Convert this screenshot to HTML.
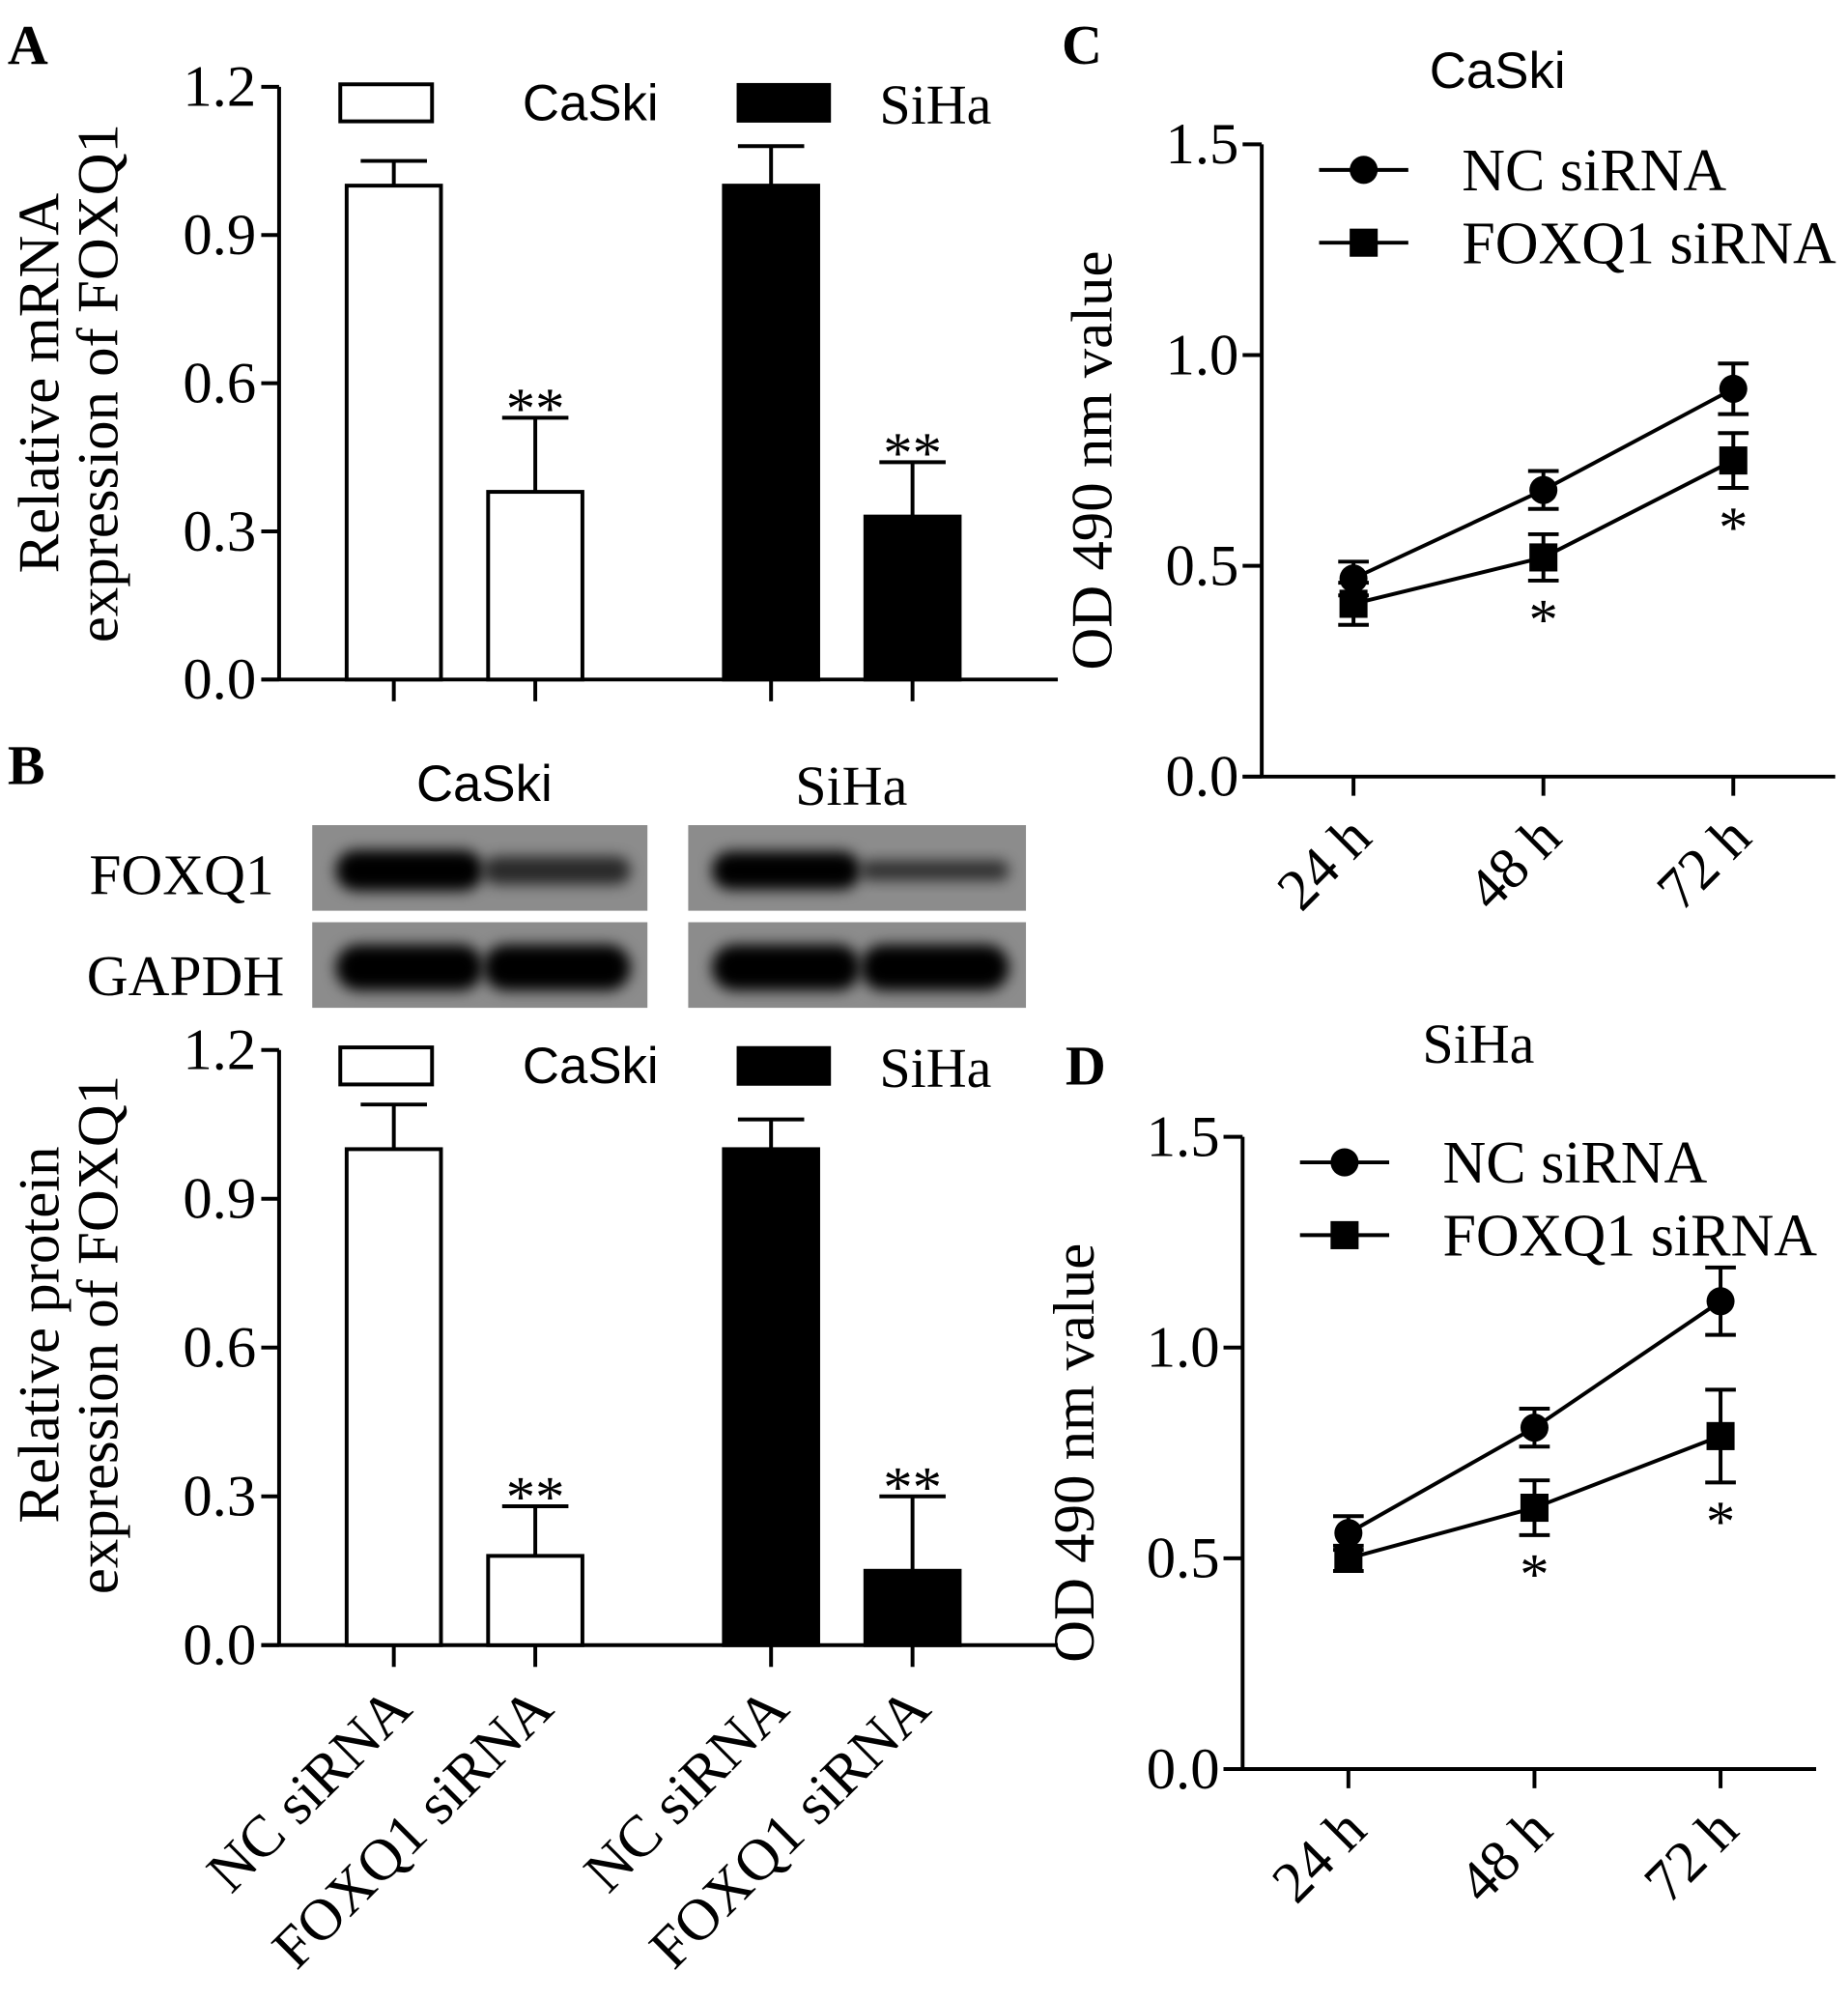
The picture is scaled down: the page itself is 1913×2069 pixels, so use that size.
<!DOCTYPE html>
<html><head><meta charset="utf-8"><style>
html,body{margin:0;padding:0;background:#fff;}
svg{display:block;}
text{fill:#000;}
.ser{font-family:"Liberation Serif",serif;}
.san{font-family:"Liberation Sans",sans-serif;}
</style></head><body>
<svg id="fig" width="1913" height="2069" viewBox="0 0 1450 1565" preserveAspectRatio="none" xmlns="http://www.w3.org/2000/svg">
<defs><filter id="blur" x="-20%" y="-60%" width="140%" height="220%"><feGaussianBlur stdDeviation="5.5"/></filter></defs>
<g class="ser" font-weight="bold" font-size="44">
<text x="6" y="50">A</text>
<text x="6" y="614">B</text>
<text x="833" y="50">C</text>
<text x="836" y="849">D</text>
</g>
<g>
<text class="san" font-size="40" x="380" y="627" text-anchor="middle">CaSki</text>
<text class="ser" font-size="44" x="668" y="630" text-anchor="middle">SiHa</text>
<text class="ser" font-size="45" x="70" y="700">FOXQ1</text>
<text class="ser" font-size="45" x="68" y="779">GAPDH</text>
<g id="blots"></g>
</g>
<g id="chartA"></g>
<g id="chartB"></g>
<g id="chartC"></g>
<g id="chartD"></g>
</svg>
<script>
const NS="http://www.w3.org/2000/svg";
// Bar chart data
const barCategories=["NC siRNA","FOXQ1 siRNA","NC siRNA","FOXQ1 siRNA"];
const barFill=["#fff","#fff","#000","#000"];
const mrnaValues=[1.0,0.38,1.0,0.33];
const mrnaErrors=[0.05,0.15,0.08,0.11];
const mrnaStars=["","**","","**"];
const proteinValues=[1.0,0.18,1.0,0.15];
const proteinErrors=[0.09,0.10,0.06,0.15];
const proteinStars=["","**","","**"];
const barTicks=["0.0","0.3","0.6","0.9","1.2"];
// Line chart data
const timeLabels=["24 h","48 h","72 h"];
const lineTicks=["0.0","0.5","1.0","1.5"];
const caskiNC=[0.47,0.68,0.92];
const caskiNCErr=[0.04,0.045,0.06];
const caskiFOX=[0.41,0.52,0.75];
const caskiFOXErr=[0.05,0.055,0.065];
const caskiStars=["","*","*"];
const sihaNC=[0.56,0.81,1.11];
const sihaNCErr=[0.04,0.045,0.08];
const sihaFOX=[0.50,0.62,0.79];
const sihaFOXErr=[0.03,0.065,0.11];
const sihaStars=["","*","*"];

const FS=46;
function mk(parent,tag,attrs,txt){const e=document.createElementNS(NS,tag);for(const k in attrs)e.setAttribute(k,attrs[k]);if(txt!==undefined)e.textContent=txt;parent.appendChild(e);return e;}

function barChart(g,vals,errs,stars,top,bottom,showX){
  const ax=219, xr=830;
  const y=v=>bottom-(v/1.2)*(bottom-top);
  const xs=i=>[309,420,605,716][i];
  const l=mk(g,'line',{x1:ax,y1:top,x2:ax,y2:bottom,stroke:'#000','stroke-width':3});
  
  
  const xl=mk(g,'line',{x1:ax-14,y1:bottom,x2:xr,y2:bottom,stroke:'#000','stroke-width':3});
  
  
  barTicks.forEach(t=>{const v=parseFloat(t);
    mk(g,'line',{x1:ax-14,y1:y(v),x2:ax,y2:y(v),stroke:'#000','stroke-width':3});
    const tx=mk(g,'text',{x:ax-18,y:y(v)+15,'text-anchor':'end','font-size':FS,class:'ser'},t);
    
    
  });
  vals.forEach((v,i)=>{const cx=xs(i),w=74;
    mk(g,'line',{x1:cx,y1:bottom,x2:cx,y2:bottom+17,stroke:'#000','stroke-width':3});
    const e=errs[i];
    mk(g,'line',{x1:cx,y1:y(v),x2:cx,y2:y(v+e),stroke:'#000','stroke-width':3});
    mk(g,'line',{x1:cx-26,y1:y(v+e),x2:cx+26,y2:y(v+e),stroke:'#000','stroke-width':3});
    const r=mk(g,'rect',{x:cx-w/2,y:y(v),width:w,height:bottom-y(v),fill:barFill[i],stroke:'#000','stroke-width':3});
    
    
    if(stars[i]){const s=mk(g,'text',{x:cx,y:y(v+e)+8,'text-anchor':'middle','font-size':FS,class:'ser'},stars[i]);
      
      }
    if(showX){const tx=mk(g,'text',{x:0,y:0,'text-anchor':'end','font-size':FS,class:'ser',transform:`translate(${cx+16},${bottom+52}) rotate(-45)`},barCategories[i]);
      
      }
  });
  const ly=top+12;
  const r1=mk(g,'rect',{x:267,y:ly-14,width:72,height:29,fill:'#fff',stroke:'#000','stroke-width':3});
  
  
  const t1=mk(g,'text',{x:410,y:ly+14,'font-size':40,class:'san'},'CaSki');
  
  
  const r2=mk(g,'rect',{x:578,y:ly-15,width:74,height:31,fill:'#000'});
  
  
  const t2=mk(g,'text',{x:690,y:ly+17,'font-size':44,class:'ser'},'SiHa');
  
  
}

function lineChart(g,ax,top,bottom,xr,xsArr,nc,ncE,fx,fxE,stars,title,titleX,titleY,titleSans,legY,ytX){
  const y=v=>bottom-(v/1.5)*(bottom-top);
  const tt=mk(g,'text',{x:titleX,y:titleY,'text-anchor':'middle','font-size':titleSans?40:44,class:titleSans?'san':'ser'},title);
  
  
  const yl=mk(g,'line',{x1:ax,y1:top,x2:ax,y2:bottom,stroke:'#000','stroke-width':3});
  
  
  const xl=mk(g,'line',{x1:ax-15,y1:bottom,x2:xr,y2:bottom,stroke:'#000','stroke-width':3});
  
  
  lineTicks.forEach(t=>{const v=parseFloat(t);
    mk(g,'line',{x1:ax-15,y1:y(v),x2:ax,y2:y(v),stroke:'#000','stroke-width':3});
    const tx=mk(g,'text',{x:ax-18,y:y(v)+15,'text-anchor':'end','font-size':FS,class:'ser'},t);
    
    
  });
  const yt=mk(g,'text',{x:0,y:0,'text-anchor':'middle','font-size':FS,class:'ser',transform:`translate(${ytX},${(top+bottom)/2}) rotate(-90)`},'OD 490 nm value');
  
  
  timeLabels.forEach((lab,i)=>{const cx=xsArr[i];
    mk(g,'line',{x1:cx,y1:bottom,x2:cx,y2:bottom+15,stroke:'#000','stroke-width':3});
    const tx=mk(g,'text',{x:0,y:0,'text-anchor':'end','font-size':FS,class:'ser',transform:`translate(${cx+16},${bottom+50}) rotate(-45)`},lab);
    
    
  });
  function series(vals,errs,shape,name){
    const pts=vals.map((v,i)=>xsArr[i]+','+y(v)).join(' ');
    const pl=mk(g,'polyline',{points:pts,fill:'none',stroke:'#000','stroke-width':3});
    
    
    vals.forEach((v,i)=>{const cx=xsArr[i],e=errs[i];
      mk(g,'line',{x1:cx,y1:y(v-e),x2:cx,y2:y(v+e),stroke:'#000','stroke-width':3});
      mk(g,'line',{x1:cx-12,y1:y(v+e),x2:cx+12,y2:y(v+e),stroke:'#000','stroke-width':3});
      mk(g,'line',{x1:cx-12,y1:y(v-e),x2:cx+12,y2:y(v-e),stroke:'#000','stroke-width':3});
      let m;
      if(shape==='c')m=mk(g,'circle',{cx:cx,cy:y(v),r:11,fill:'#000'});
      else m=mk(g,'rect',{x:cx-11,y:y(v)-11,width:22,height:22,fill:'#000'});
      
      
    });
  }
  series(nc,ncE,'c','nc-sirna');
  series(fx,fxE,'s','foxq1-sirna');
  fx.forEach((v,i)=>{if(stars[i]){const s=mk(g,'text',{x:xsArr[i],y:y(v-fxE[i])+46,'text-anchor':'middle','font-size':FS,class:'ser'},stars[i]);
    
    }});
  const lx=ax+45;
  mk(g,'line',{x1:lx,y1:legY,x2:lx+70,y2:legY,stroke:'#000','stroke-width':3});
  const c=mk(g,'circle',{cx:lx+35,cy:legY,r:11,fill:'#000'});
  
  
  const t1=mk(g,'text',{x:lx+112,y:legY+16,'font-size':47,class:'ser'},'NC siRNA');
  
  
  mk(g,'line',{x1:lx,y1:legY+57,x2:lx+70,y2:legY+57,stroke:'#000','stroke-width':3});
  const sq=mk(g,'rect',{x:lx+24,y:legY+46,width:22,height:22,fill:'#000'});
  
  
  const t2=mk(g,'text',{x:lx+112,y:legY+73,'font-size':47,class:'ser'},'FOXQ1 siRNA');
  
  
}

const gA=document.getElementById('chartA');
barChart(gA,mrnaValues,mrnaErrors,mrnaStars,68,532,false);
const a1=mk(gA,'text',{x:0,y:0,'text-anchor':'middle','font-size':FS,class:'ser',transform:'translate(46,300) rotate(-90)'},'Relative mRNA');


const a2=mk(gA,'text',{x:0,y:0,'text-anchor':'middle','font-size':FS,class:'ser',transform:'translate(92,300) rotate(-90)'},'expression of FOXQ1');


const gB=document.getElementById('chartB');
barChart(gB,proteinValues,proteinErrors,proteinStars,822,1288,true);
const b1=mk(gB,'text',{x:0,y:0,'text-anchor':'middle','font-size':FS,class:'ser',transform:'translate(46,1045) rotate(-90)'},'Relative protein');


const b2=mk(gB,'text',{x:0,y:0,'text-anchor':'middle','font-size':FS,class:'ser',transform:'translate(92,1045) rotate(-90)'},'expression of FOXQ1');


lineChart(document.getElementById('chartC'),990,113,608,1440,[1062,1211,1360],caskiNC,caskiNCErr,caskiFOX,caskiFOXErr,caskiStars,'CaSki',1175,69,true,133,872);
lineChart(document.getElementById('chartD'),975,890,1385,1425,[1058,1204,1350],sihaNC,sihaNCErr,sihaFOX,sihaFOXErr,sihaStars,'SiHa',1160,832,false,910,858);

const gb=document.getElementById('blots');
const blotBoxes=[[245,508],[540,805]];
const bandRows=[[646,713],[722,789]];
const foxq1Band=[[1,32],[0.7,22],[1,30],[0.65,16]];
const gapdhBand=[[1,36],[1,36],[1,36],[1,36]];
bandRows.forEach((row,ri)=>{blotBoxes.forEach((bx,bi)=>{
  const r=mk(gb,'rect',{x:bx[0],y:row[0],width:bx[1]-bx[0],height:row[1]-row[0],fill:'#8c8c8c'});
  
  
  const w=(bx[1]-bx[0]);
  for(let l=0;l<2;l++){
    const b=(ri?gapdhBand:foxq1Band)[bi*2+l];
    const cx=bx[0]+w*(l?0.73:0.29), cy=(row[0]+row[1])/2+2;
    const e=mk(gb,'rect',{x:cx-w*0.22,y:cy-b[1]/2,width:w*0.44,height:b[1],rx:b[1]/2,fill:'#050505',opacity:b[0],filter:'url(#blur)'});
    
    
  }
});});
</script>
</body></html>
